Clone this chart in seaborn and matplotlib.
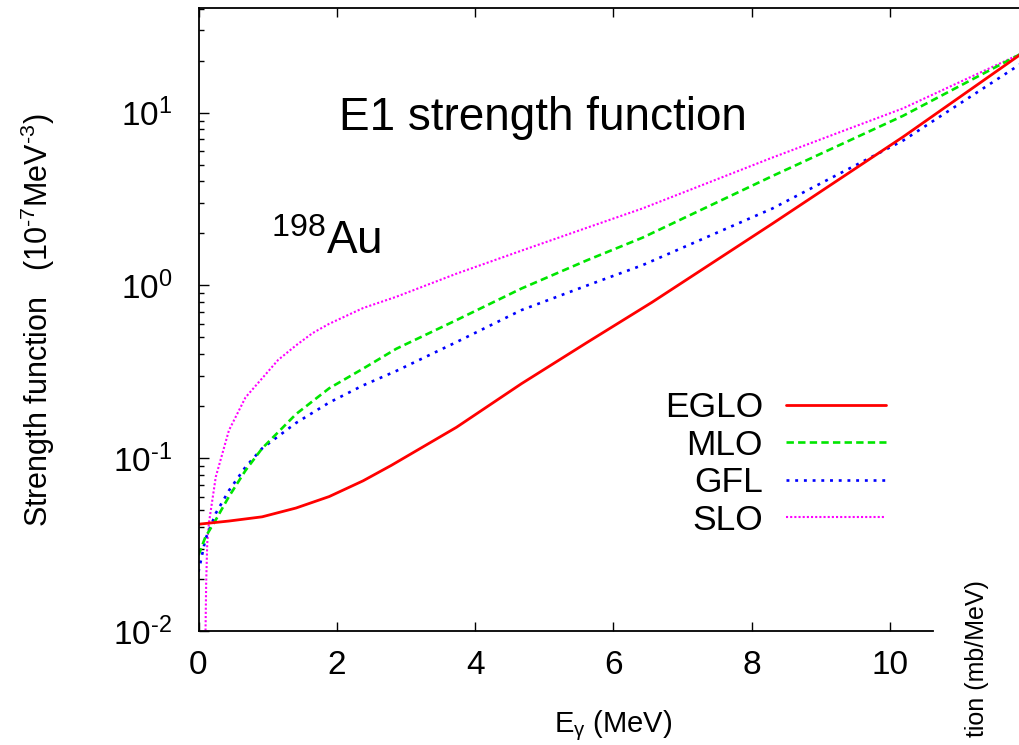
import numpy as np
import matplotlib
matplotlib.use("Agg")
import matplotlib.pyplot as plt
import seaborn as sns
from matplotlib.ticker import FixedLocator, FixedFormatter, LogLocator, NullFormatter

# ---------------- data ----------------
eglo_e = [0.0, 0.44, 0.92, 1.41, 1.89, 2.38, 2.79, 3.73, 4.67, 5.62, 6.56, 8.3, 10.19, 11.92]
eglo_v = [0.0415, 0.0433, 0.0458, 0.0515, 0.060, 0.074, 0.091, 0.151, 0.27, 0.468, 0.80, 2.28, 7.25, 22.2]

mlo_e = [0.0, 0.1, 0.25, 0.44, 0.68, 0.92, 1.41, 1.89, 2.38, 2.86, 3.73, 4.67, 5.62, 6.42, 8.3, 10.19, 11.92]
mlo_v = [0.0275, 0.035, 0.044, 0.060, 0.085, 0.114, 0.18, 0.254, 0.33, 0.43, 0.63, 0.96, 1.40, 1.89, 4.3, 9.6, 22.2]

gfl_e = [0.0, 0.1, 0.25, 0.44, 0.68, 0.92, 1.41, 1.89, 2.38, 2.86, 3.73, 4.67, 5.62, 6.42, 8.3, 10.19, 11.92]
gfl_v = [0.022, 0.034, 0.048, 0.065, 0.089, 0.114, 0.16, 0.21, 0.264, 0.32, 0.47, 0.72, 1.0, 1.31, 2.79, 6.9, 19.5]

slo_e = [0.10, 0.111, 0.126, 0.15, 0.25, 0.44, 0.68, 0.92, 1.15, 1.41, 1.65, 1.89, 2.38, 2.86, 3.73,
         4.67, 5.62, 6.42, 8.3, 10.19, 11.92]
slo_v = [0.009, 0.019, 0.032, 0.042, 0.078, 0.145, 0.225, 0.29, 0.37, 0.45, 0.53, 0.60, 0.74, 0.86, 1.17,
         1.59, 2.16, 2.79, 5.5, 10.6, 22.2]

series_names = ["EGLO", "MLO", "GFL", "SLO"]
x_ticks = [0, 2, 4, 6, 8, 10]
y_ticks = [0.01, 0.1, 1, 10]
HY = "\u2010"
y_tick_labels = [r"$10^{%s2}$" % HY, r"$10^{%s1}$" % HY, r"$10^{0}$", r"$10^{1}$"]

# ---------------- style ----------------
sns.set_style("ticks")
plt.rcParams["font.family"] = ["Liberation Sans", "DejaVu Sans"]
plt.rcParams["mathtext.fontset"] = "custom"
plt.rcParams["mathtext.rm"] = "Liberation Sans"
plt.rcParams["mathtext.it"] = "Liberation Sans:italic"
plt.rcParams["mathtext.bf"] = "Liberation Sans:bold"
plt.rcParams["mathtext.default"] = "regular"
plt.rcParams["text.color"] = "black"

W, H = 1019, 745
fig = plt.figure(figsize=(W / 100, H / 100), dpi=100)
x0, ybot, ytop = 198.5, 631, 8.3
ax = fig.add_axes([x0 / W, 1 - ybot / H, 1 - x0 / W, (ybot - ytop) / H])
ax.set_yscale("log")

styles = {
    "EGLO": dict(color="#ff0000", lw=2.0, dashes=None),
    "MLO": dict(color="#00e600", lw=1.9, dashes=[2.8, 1.6]),
    "GFL": dict(color="#0000ff", lw=1.9, dashes=[1.1, 2.2]),
    "SLO": dict(color="#ff00ff", lw=1.5, dashes=[1.0, 1.0]),
}
data = {"EGLO": (eglo_e, eglo_v), "MLO": (mlo_e, mlo_v), "GFL": (gfl_e, gfl_v), "SLO": (slo_e, slo_v)}

handles = {}
for name in ["SLO", "GFL", "MLO", "EGLO"]:
    e, v = data[name]
    st = styles[name]
    sns.lineplot(x=e, y=v, ax=ax, color=st["color"], linewidth=st["lw"],
                 estimator=None, sort=False, legend=False)
    line = ax.get_lines()[-1]
    line.set_label(name)
    line.set_solid_joinstyle("round")
    if st["dashes"] is not None:
        line.set_dashes(st["dashes"])
        line.set_dash_capstyle("butt")
    handles[name] = line

ax.set_xlim(0, (W - x0) / 69.15)
ax.set_ylim(0.01, 40.2)

ax.xaxis.set_major_locator(FixedLocator(x_ticks))
ax.yaxis.set_major_locator(FixedLocator(y_ticks))
ax.yaxis.set_major_formatter(FixedFormatter(y_tick_labels))
ax.yaxis.set_minor_locator(LogLocator(base=10, subs=np.arange(2, 10)))
ax.yaxis.set_minor_formatter(NullFormatter())

ax.tick_params(axis="both", which="both", direction="in", colors="black")
ax.tick_params(axis="x", which="major", top=True, bottom=True, length=6.5, width=1.0,
               labelsize=24, pad=14)
ax.tick_params(axis="y", which="major", left=True, right=False, length=7, width=1.0,
               labelsize=24, pad=19)
ax.tick_params(axis="y", which="minor", left=True, right=False, length=3.5, width=1.0)
ax.spines["right"].set_visible(False)
for s in ["left", "top", "bottom"]:
    ax.spines[s].set_linewidth(1.3)
    ax.spines[s].set_color("black")
ax.spines["bottom"].set_bounds(0, 10.62)
ax.set_xlabel("")
ax.set_ylabel("")

# annotations
ax.text(2.03, 7.96, "E1 strength function", fontsize=33, ha="left", va="baseline")
ax.text(1.045, 1.53, r"$^{198}$Au", fontsize=33, ha="left", va="baseline")

leg = ax.legend([handles[n] for n in series_names], series_names,
                loc="upper right", bbox_to_anchor=(886 / W, 1 - 391 / H),
                bbox_transform=fig.transFigure, frameon=False, fontsize=25.5,
                markerfirst=False, handlelength=2.82, handletextpad=0.65,
                labelspacing=0.13, borderpad=0, borderaxespad=0)
for t in leg.get_texts():
    t.set_color("black")

fig.text(38 / W, 1 - 320 / H,
         r"Strength function   (10$^{%s7}$MeV$^{%s3}$)" % (HY, HY),
         rotation=90, ha="center", va="center", fontsize=22)
fig.text(613 / W, 1 - 732 / H, r"E$_{γ}$ (MeV)", ha="center", va="baseline", fontsize=21)
fig.text(977 / W, 1 - 580 / H, "tion (mb/MeV)", rotation=90, ha="center", va="top", fontsize=18)

fig.savefig("out.png", dpi=100)
